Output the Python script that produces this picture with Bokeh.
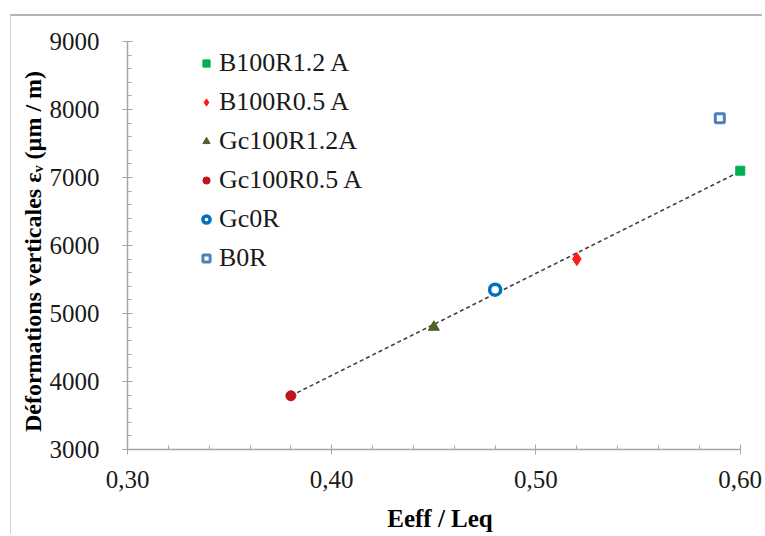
from bokeh.plotting import figure
from bokeh.models import (FixedTicker, CustomJSTickFormatter, Legend, LegendItem, Range1d,
                          ColumnDataSource)
from bokeh.embed import file_html
from bokeh.resources import INLINE

# ---- data ----
series = ["B100R1.2 A", "B100R0.5 A", "Gc100R1.2A", "Gc100R0.5 A", "Gc0R", "B0R"]
x_vals = [0.60, 0.52, 0.45, 0.38, 0.48, 0.59]
y_vals = [7100, 5800, 4800, 3790, 5350, 7870]
trend_x = [0.38, 0.60]
trend_y = [3790, 7090]
x_ticks = [0.30, 0.40, 0.50, 0.60]
x_minor = [0.32, 0.34, 0.36, 0.38, 0.42, 0.44, 0.46, 0.48, 0.52, 0.54, 0.56, 0.58]
y_ticks = [3000, 4000, 5000, 6000, 7000, 8000, 9000]
y_minor = [v + d for v in y_ticks[:-1] for d in (200, 400, 600, 800)]

# ---- styles ----
styles = [
    dict(marker="square", size=9, fill_color="#00b050", line_color="#00b050", line_width=1),
    dict(marker="diamond", size=13, fill_color="#ff1a1a", line_color="#ff1a1a", line_width=1),
    dict(marker="triangle", size=11, fill_color="#4f6228", line_color="#4f6228", line_width=1),
    dict(marker="circle", size=10, fill_color="#c0141c", line_color="#c0141c", line_width=1),
    dict(marker="circle", size=11, fill_color="white", line_color="#0070c0", line_width=3.5),
    dict(marker="square", size=9, fill_color="white", line_color="#4f81bd", line_width=3),
]

FONT = "Liberation Serif"
AX = "#a6a6a6"

p = figure(width=752, height=520, output_backend="svg", toolbar_location=None,
           x_range=Range1d(0.30, 0.606), y_range=Range1d(3000, 9000),
           min_border_left=116, min_border_right=11, min_border_top=25, min_border_bottom=87,
           margin=(14, 0, 0, 10),
           styles={"border-top": "2px solid #b4b4b4", "border-left": "1px solid #d4d4d4"})
p.outline_line_color = None
p.grid.visible = False
p.background_fill_color = "white"
p.border_fill_color = "white"

p.line(trend_x, trend_y, line_color="#404040", line_dash="4 3", line_width=1.6)

items = []
for i, name in enumerate(series):
    src = ColumnDataSource(dict(x=[x_vals[i]], y=[y_vals[i]]))
    r = p.scatter("x", "y", source=src, **styles[i])
    items.append(LegendItem(label=name, renderers=[r]))

legend = Legend(items=items, location=(70, 176), border_line_color=None,
                background_fill_alpha=0, padding=0, margin=0, spacing=9,
                glyph_width=18, glyph_height=30, label_height=30, label_standoff=4,
                label_text_font=FONT, label_text_font_size="26px", label_text_color="#1a1a1a")
p.add_layout(legend)

for ax in (p.xaxis[0], p.yaxis[0]):
    ax.axis_line_color = AX
    ax.axis_line_width = 1.5
    ax.major_tick_line_color = AX
    ax.minor_tick_line_color = AX
    ax.major_tick_in = 5
    ax.major_tick_out = 5
    ax.minor_tick_in = 4
    ax.minor_tick_out = 0
    ax.major_label_text_font = FONT
    ax.major_label_text_font_size = "25px"
    ax.major_label_text_color = "#1a1a1a"
    ax.axis_label_text_font = FONT
    ax.axis_label_text_font_style = "bold"
    ax.axis_label_text_color = "#000000"

p.xaxis.bounds = (0.30, 0.60)
p.xaxis.ticker = FixedTicker(ticks=x_ticks, minor_ticks=x_minor)
p.yaxis.ticker = FixedTicker(ticks=y_ticks, minor_ticks=y_minor)
p.xaxis.formatter = CustomJSTickFormatter(code="return tick.toFixed(2).replace('.', ',');")
p.xaxis.major_label_standoff = 16
p.yaxis.major_label_standoff = 23
p.xaxis.axis_label = "Eeff / Leq"
p.yaxis.axis_label = "Déformations  verticales εᵥ  (µm / m)"
p.xaxis.axis_label_text_font_size = "25px"
p.yaxis.axis_label_text_font_size = "24px"
p.xaxis.axis_label_standoff = 14
p.yaxis.axis_label_standoff = 1

open("out.html", "w").write(file_html(p, INLINE))
